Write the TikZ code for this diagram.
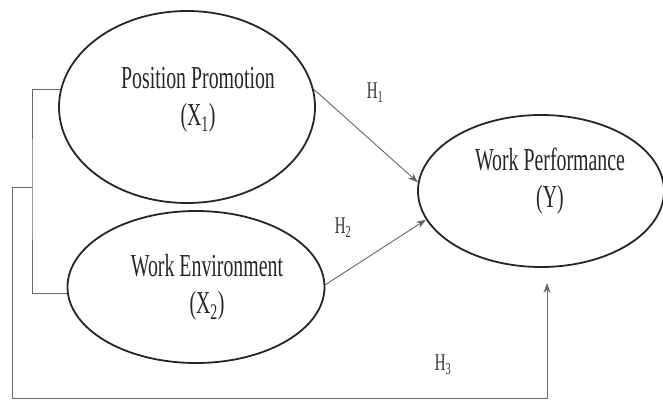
\documentclass[tikz,border=0pt]{standalone}
\usepackage{fontspec}
\setmainfont{Liberation Serif}[FakeStretch=0.62]
\usetikzlibrary{arrows.meta, positioning, shapes.geometric}

\begin{document}
\begin{tikzpicture}[
			x = 1pt, y = -1pt,
			> = {Stealth[length=10pt, width=7pt]},
			construct/.style = {draw=black!85, ellipse, line width=1.8pt, inner sep=0pt},
			caption/.style = {align=center, font=\fontsize{32}{37}\selectfont, text=black!85},
			hyp/.style = {font=\fontsize{24}{28}\selectfont, text=black!80},
			link/.style = {draw=black!60, line width=0.9pt}
			]
			
			\useasboundingbox (0,0) rectangle (663,401);
			
			% Define constructs
			\node[construct, minimum width=256pt, minimum height=192pt] (pp) at (187,107) {};
			\node[construct, minimum width=257pt, minimum height=152pt] (we) at (196,287) {};
			\node[construct, minimum width=246pt, minimum height=152pt] (wp) at (541,191) {};
			
			\node[caption] (pptext) at (198,100) {Position Promotion\\(X\textsubscript{1})};
			\node[caption] (wetext) at (207,287) {Work Environment\\(X\textsubscript{2})};
			\node[caption] (wptext) at (550,181) {Work Performance\\(Y)};
			
			% Define hypotheses
			\node[hyp] (h1) at (375,93) {H\textsubscript{1}};
			\node[hyp] (h2) at (343,228) {H\textsubscript{2}};
			\node[hyp] (h3) at (443,365) {H\textsubscript{3}};
			
			\coordinate (brk) at (32,187);
			\coordinate (corner) at (12,398);
			\coordinate (tip3) at (547,283);
			
			% Define paths
			\draw[link, ->] (pp.8) -- (wp.176);
			\draw[link, ->] (we.1) -- (wp.194);
			\draw[link] (pp.172) -| (brk) |- (we.183);
			\draw[link, ->] (brk) -| (corner) -| (tip3);
			
		\end{tikzpicture}
\end{document}
